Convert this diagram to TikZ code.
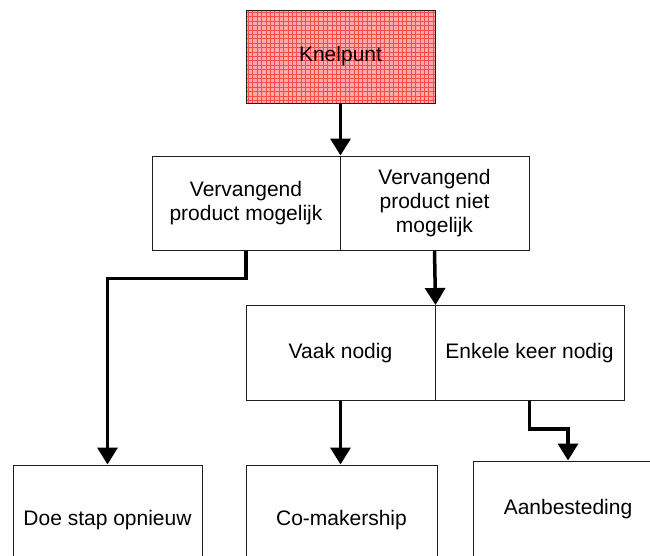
\documentclass[tikz,border=0pt]{standalone}
\usepackage{fontspec}
\setmainfont{Liberation Sans}
\usetikzlibrary{arrows.meta}
\definecolor{knelfill}{RGB}{255,170,170}
\definecolor{knelgrid}{RGB}{250,75,75}
\definecolor{boxline}{RGB}{30,30,30}
\begin{document}
\begin{tikzpicture}[x=1pt,y=-1pt,
  every node/.style={font=\fontsize{21}{24}\selectfont, align=center, inner sep=0pt},
  box/.style={draw=boxline, line width=1pt, fill=white},
  flow/.style={line width=3.5pt, -{Triangle[width=20pt 0,length=17pt 0]}}]
\useasboundingbox (0,0) rectangle (650,555);
\clip (0,0) rectangle (650,555);

% top problem box with red grid fill
\node[draw=boxline, line width=1pt, fill=knelfill, minimum width=189pt, minimum height=93pt] (k) at (340.5,56.5) {};
\begin{scope}
  \clip (246,10) rectangle (435,103);
  \foreach \gx in {248.2,252.6,...,436} \draw[knelgrid, line width=0.6pt] (\gx,10) -- (\gx,103);
  \foreach \gy in {12.2,16.6,...,104} \draw[knelgrid, line width=0.6pt] (246,\gy) -- (435,\gy);
\end{scope}
\draw[boxline, line width=1pt] (246,10) rectangle (435,103);
\node at (k.center) {Knelpunt};

% first decision row
\node[box, minimum width=188pt, minimum height=94pt] (vl) at (246,203) {Vervangend\\product mogelijk};
\node[box, minimum width=189pt, minimum height=94pt] (vr) at (434.5,203) {Vervangend\\product niet\\mogelijk};

% second decision row
\node[box, minimum width=189pt, minimum height=95pt] (wl) at (340.5,353) {Vaak nodig};
\node[box, minimum width=189pt, minimum height=95pt] (wr) at (529.5,353) {Enkele keer nodig};

% outcomes
\node[box, minimum width=189pt, minimum height=110pt] (b1) at (107.5,520) {Doe stap opnieuw};
\node[box, minimum width=191pt, minimum height=110pt] (b2) at (341.5,520) {Co-makership};
\node[box, minimum width=190pt, minimum height=96pt] (b3) at (568,509) {Aanbesteding};

% connectors
\draw[flow] (k.south) -- (vl.north east);
\draw[flow] (vl.south) -- ++(0,28) -| (b1.north);
\draw[flow] (vr.south) -- (wl.north east);
\draw[flow] (wl.south) -- (wl.south |- b2.north);
\draw[flow] (wr.south) -- ++(0,28) -| (b3.north);
\end{tikzpicture}
\end{document}
